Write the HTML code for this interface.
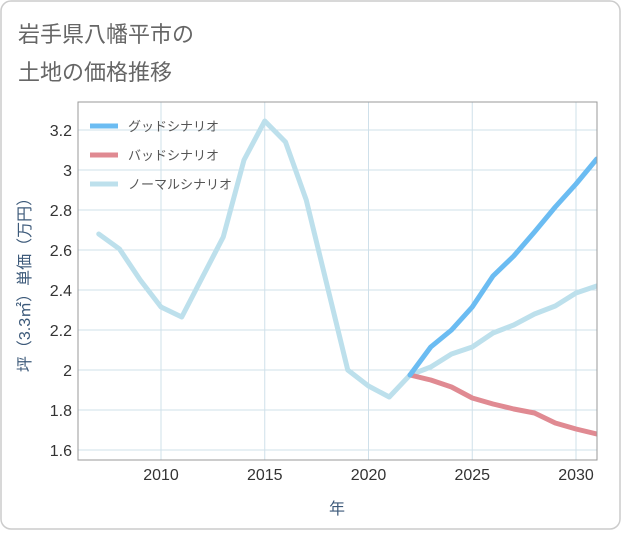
<!DOCTYPE html>
<html><head><meta charset="utf-8">
<style>
body{margin:0;background:#fff;font-family:"Liberation Sans","Noto Sans CJK JP",sans-serif;}
#wrap{position:relative;width:621px;height:530px;}
</style></head>
<body>
<div id="wrap">
<svg id="svg" width="621" height="530" xmlns="http://www.w3.org/2000/svg">
<rect x="1" y="1" width="619" height="528" rx="10" fill="#fff" stroke="#ccc" stroke-width="1.5"/>
<text x="18" y="42" font-size="22" fill="#666" font-family="Liberation Sans, Noto Sans CJK JP, sans-serif">岩手県八幡平市の</text>
<text x="18" y="80" font-size="22" fill="#666" font-family="Liberation Sans, Noto Sans CJK JP, sans-serif">土地の価格推移</text>
<g id="grid"></g>
<g id="series"></g>
<rect x="78" y="102" width="519" height="358" fill="none" stroke="#999" stroke-width="1"/>
<g id="ticks"></g>
<text transform="translate(30,281) rotate(-90)" text-anchor="middle" font-size="16" fill="#3d5a7a" font-family="Liberation Sans, Noto Sans CJK JP, sans-serif">坪（3.3㎡）単価（万円）</text>
<text x="337" y="514" text-anchor="middle" font-size="16" fill="#3d5a7a" font-family="Liberation Sans, Noto Sans CJK JP, sans-serif">年</text>
<g id="legend"></g>
</svg>
</div>
<script>
const years=[2007,2008,2009,2010,2011,2012,2013,2014,2015,2016,2017,2018,2019,2020,2021,2022,2023,2024,2025,2026,2027,2028,2029,2030,2031];
const normalVals=[2.68,2.605,2.45,2.315,2.265,2.465,2.665,3.05,3.245,3.14,2.85,2.425,2.0,1.92,1.865,1.975,2.015,2.08,2.115,2.185,2.225,2.28,2.32,2.385,2.42];
const futureYears=[2022,2023,2024,2025,2026,2027,2028,2029,2030,2031];
const goodVals=[1.975,2.115,2.2,2.315,2.47,2.57,2.69,2.815,2.93,3.055];
const badVals=[1.975,1.95,1.915,1.86,1.83,1.805,1.785,1.735,1.705,1.68];
const yTicks=[1.6,1.8,2,2.2,2.4,2.6,2.8,3,3.2];
const yTickLabels=["1.6","1.8","2","2.2","2.4","2.6","2.8","3","3.2"];
const xTicks=[2010,2015,2020,2025,2030];
const NS="http://www.w3.org/2000/svg";
const L=78,R=597,T=102,B=460;
const xS=y=>161+(y-2010)*20.75;
const yS=v=>130+(3.2-v)*200;
function mk(tag,attrs,parent){const e=document.createElementNS(NS,tag);for(const k in attrs)e.setAttribute(k,attrs[k]);parent.appendChild(e);return e;}
const grid=document.getElementById('grid'),ticks=document.getElementById('ticks'),ser=document.getElementById('series'),leg=document.getElementById('legend');
yTicks.forEach((v,i)=>{
 const l=mk('line',{x1:L,x2:R,y1:yS(v),y2:yS(v),stroke:'#cfe0ea','stroke-width':1},grid);
 
 
 const t=mk('text',{x:72,y:yS(v)+6,'text-anchor':'end','font-size':16,fill:'#333'},ticks);
 t.textContent=yTickLabels[i];
 
 
});
xTicks.forEach(y=>{
 const l=mk('line',{x1:xS(y),x2:xS(y),y1:T,y2:B,stroke:'#cfe0ea','stroke-width':1},grid);
 
 
 const t=mk('text',{x:xS(y),y:480,'text-anchor':'middle','font-size':16,fill:'#333'},ticks);
 t.textContent=String(y);
 
 
});
function line(xs,vs,color,name){
 const p=mk('polyline',{points:xs.map((x,i)=>xS(x)+','+yS(vs[i])).join(' '),fill:'none',stroke:color,'stroke-width':5,'stroke-linejoin':'round','stroke-linecap':'round'},ser);
 
 
}
const clip=mk('clipPath',{id:'pc'},document.getElementById('svg'));
mk('rect',{x:L,y:T,width:R-L,height:B-T},clip);
ser.setAttribute('clip-path','url(#pc)');
line(years,normalVals,'#bde0ec','normal-scenario-line');
line(futureYears,badVals,'#e08a92','bad-scenario-line');
line(futureYears,goodVals,'#6bbcf2','good-scenario-line');
const legItems=[['グッドシナリオ','#6bbcf2','legend-good'],['バッドシナリオ','#e08a92','legend-bad'],['ノーマルシナリオ','#bde0ec','legend-normal']];
legItems.forEach((it,i)=>{
 const y=126+i*29;
 const g=mk('g',{},leg);
 
 
 mk('line',{x1:90,x2:118,y1:y,y2:y,stroke:it[1],'stroke-width':5},g);
 const t=mk('text',{x:128,y:y+5,'font-size':13,fill:'#555'},g);
 t.textContent=it[0];
});
</script>
</body></html>
